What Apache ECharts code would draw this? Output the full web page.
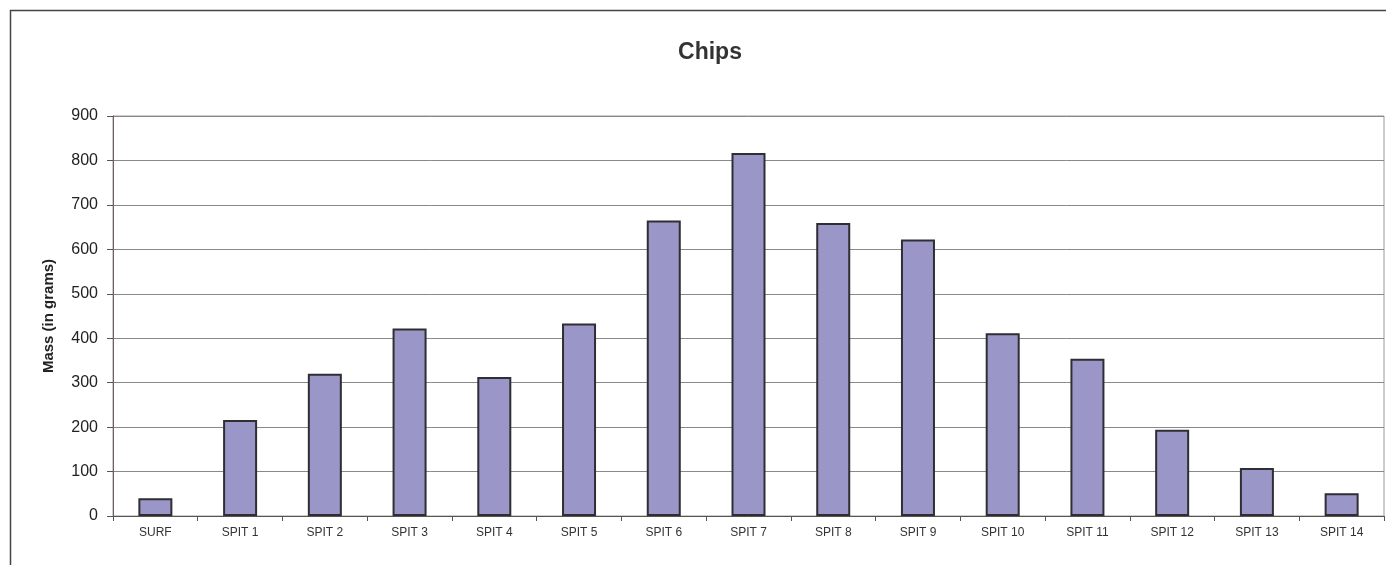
<!DOCTYPE html>
<html>
<head>
<meta charset="utf-8">
<script src="https://cdn.jsdelivr.net/npm/echarts@6/dist/echarts.min.js"></script>
<style>
html,body{margin:0;padding:0;background:#fff;}
#chart{width:1386px;height:565px;}
</style>
</head>
<body>
<div id="chart"></div>
<script>
const categories = ['SURF','SPIT 1','SPIT 2','SPIT 3','SPIT 4','SPIT 5','SPIT 6','SPIT 7','SPIT 8','SPIT 9','SPIT 10','SPIT 11','SPIT 12','SPIT 13','SPIT 14'];
const massValues = [40, 216, 320, 422, 313, 433, 665, 817, 659, 622, 411, 354, 194, 108, 51];
const chartTitle = 'Chips';
const yAxisName = 'Mass (in grams)';

const chart = echarts.init(document.getElementById('chart'));
const font = '"Liberation Sans", Arial, sans-serif';
chart.setOption({
  backgroundColor: '#fff',
  animation: false,
  title: {
    text: chartTitle,
    left: 705,
    top: 36,
    textAlign: 'center',
    textStyle: {fontFamily: font, fontSize: 23, fontWeight: 'bold', color: '#333'}
  },
  graphic: [{
    type: 'rect',
    shape: {x: 10.5, y: 10.5, width: 1400, height: 600},
    style: {fill: 'none', stroke: '#444', lineWidth: 1.5},
    silent: true, z: -1
  }],
  grid: {
    left: 113, right: 2, top: 116, bottom: 49,
    show: true, borderColor: '#a09898', borderWidth: 1, backgroundColor: 'transparent'
  },
  xAxis: {
    type: 'category',
    data: categories,
    axisLine: {show: true, lineStyle: {color: '#555', width: 1}},
    axisTick: {show: true, alignWithLabel: false, length: 5, lineStyle: {color: '#555'}},
    axisLabel: {fontFamily: font, fontSize: 12, color: '#333', margin: 11, interval: 0},
    splitLine: {show: false}
  },
  yAxis: {
    type: 'value',
    min: 0, max: 900, interval: 100,
    name: yAxisName,
    nameLocation: 'middle',
    nameGap: 57,
    nameTextStyle: {fontFamily: font, fontSize: 15, fontWeight: 'bold', color: '#222'},
    axisLine: {show: true, lineStyle: {color: '#6b5f5f', width: 1}},
    axisTick: {show: true, length: 6, lineStyle: {color: '#555'}},
    axisLabel: {fontFamily: font, fontSize: 16, color: '#222', margin: 15},
    splitLine: {show: true, lineStyle: {color: '#888', width: 1}}
  },
  series: [{
    type: 'bar',
    data: massValues,
    barWidth: 34,
    itemStyle: {color: '#9b96c8', borderColor: '#2e2e33', borderWidth: 2}
  }]
});
</script>
</body>
</html>
